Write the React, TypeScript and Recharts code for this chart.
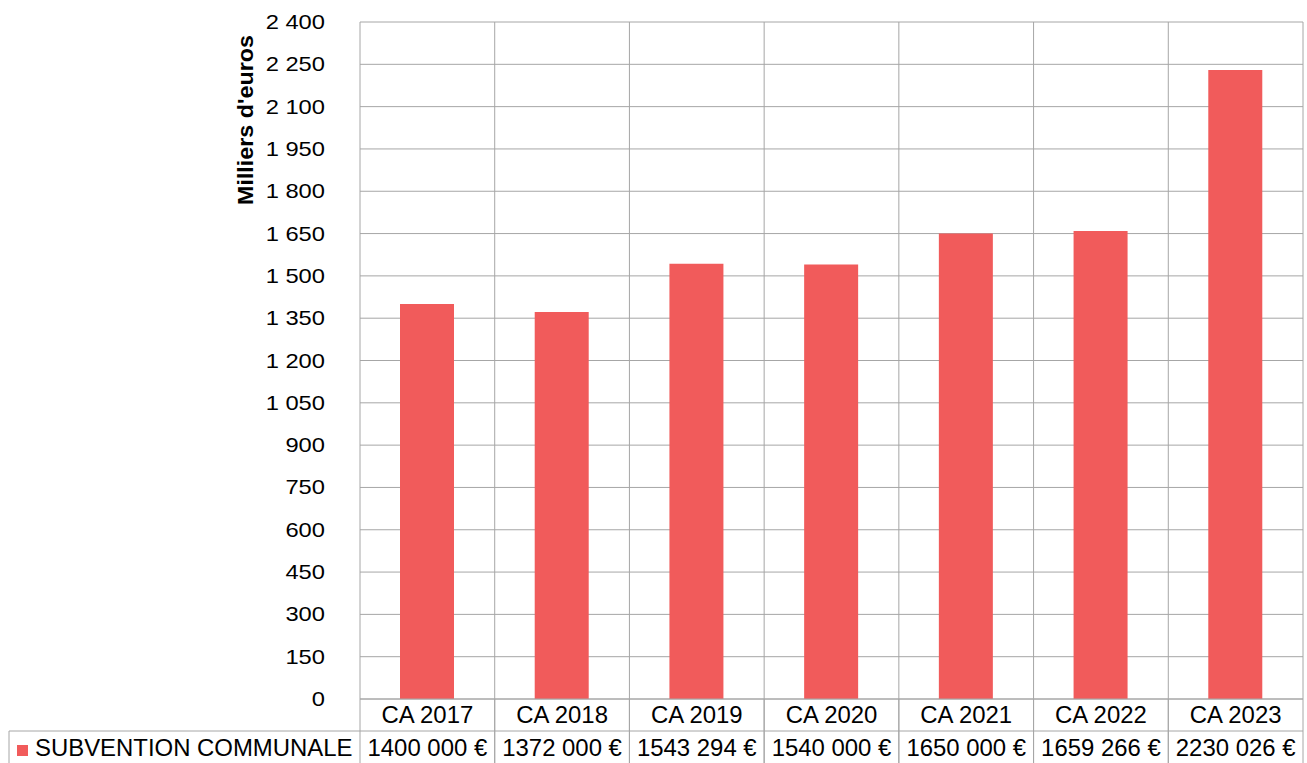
import React from "react";
import { BarChart, Bar, XAxis, YAxis, CartesianGrid } from "recharts";

const categories = ["CA 2017", "CA 2018", "CA 2019", "CA 2020", "CA 2021", "CA 2022", "CA 2023"];
const subventionEuros = [1400000, 1372000, 1543294, 1540000, 1650000, 1659266, 2230026];
const yTicks = [0, 150, 300, 450, 600, 750, 900, 1050, 1200, 1350, 1500, 1650, 1800, 1950, 2100, 2250, 2400];
const seriesName = "SUBVENTION COMMUNALE";
const yTitle = "Milliers d'euros";

const data = categories.map((c, i) => ({ cat: c, euros: subventionEuros[i], value: subventionEuros[i] / 1000 }));

const W = 1307;
const H = 763;
const M = { top: 22, right: 4, bottom: 0, left: 0 };
const XH = 64;
const YW = 360;
const PLOT_W = W - M.right - YW;
const BAND = PLOT_W / categories.length;
const ROW = 32;
const GRID = "#a6a6a6";
const BAR = "#F15B5B";
const FONT = "'Liberation Sans', Arial, sans-serif";

const fmtTick = (n: number) =>
  n >= 1000 ? `${Math.floor(n / 1000)} ${String(n % 1000).padStart(3, "0")}` : String(n);
const fmtEuro = (n: number) => `${Math.floor(n / 1000)} ${String(n % 1000).padStart(3, "0")} €`;

const SText = ({ x, y, anchor, size, sx, bold, rotate, children }: any) => (
  <text
    x={0}
    y={0}
    transform={`translate(${x},${y})${rotate ? ` rotate(${rotate})` : ""} scale(${sx},1)`}
    textAnchor={anchor}
    dominantBaseline="central"
    fontFamily={FONT}
    fontSize={size}
    fontWeight={bold ? "bold" : "normal"}
    fill="#000"
  >
    {children}
  </text>
);

const TS = 23;
const TSX = 1.04;

const TableTick = (props: any) => {
  const { x, y, payload, index } = props;
  const l = x - BAND / 2;
  const r = x + BAND / 2;
  const y0 = y;
  const y1 = y0 + ROW;
  const y2 = H;
  return (
    <g>
      <line x1={l} y1={y0} x2={l} y2={y2} stroke={GRID} strokeWidth={1} />
      <line x1={r} y1={y0} x2={r} y2={y2} stroke={GRID} strokeWidth={1} />
      <line x1={l} y1={y1} x2={r} y2={y1} stroke={GRID} strokeWidth={1} />
      <SText x={x} y={y0 + ROW / 2} anchor="middle" size={TS} sx={TSX}>
        {payload.value}
      </SText>
      <SText x={x} y={y1 + ROW / 2 + 1} anchor="middle" size={TS} sx={TSX}>
        {fmtEuro(subventionEuros[index])}
      </SText>
      {index === 0 && (
        <g>
          <line x1={9} y1={y1} x2={l} y2={y1} stroke={GRID} strokeWidth={1} />
          <line x1={9} y1={y1} x2={9} y2={y2} stroke={GRID} strokeWidth={1} />
          <rect x={17} y={y1 + 14} width={11} height={11} fill={BAR} />
          <SText x={35} y={y1 + ROW / 2 + 1} anchor="start" size={TS} sx={TSX}>
            {seriesName}
          </SText>
        </g>
      )}
    </g>
  );
};

const YTick = (props: any) => {
  const { x, y, payload } = props;
  return (
    <SText x={x} y={y} anchor="end" size={21} sx={1.13}>
      {fmtTick(payload.value)}
    </SText>
  );
};

const YTitle = () => (
  <SText x={245} y={120} anchor="middle" size={22} sx={1.06} bold rotate={-90}>
    {yTitle}
  </SText>
);

export default function App() {
  return (
    <div style={{ position: "absolute", left: 0, top: 0, width: W, height: H, background: "#fff" }}>
      <BarChart width={W} height={H} data={data} margin={M} barCategoryGap={0}>
        <CartesianGrid
          stroke={GRID}
          strokeWidth={1}
          verticalCoordinatesGenerator={({ offset }: any) =>
            Array.from({ length: categories.length + 1 }, (_, i) => offset.left + (i * offset.width) / categories.length)
          }
        />
        <XAxis
          dataKey="cat"
          interval={0}
          tickLine={false}
          tickSize={0}
          tickMargin={0}
          height={XH}
          axisLine={{ stroke: GRID }}
          tick={<TableTick />}
        />
        <YAxis
          width={YW}
          domain={[0, 2400]}
          ticks={yTicks}
          interval={0}
          tickLine={false}
          axisLine={false}
          tickSize={0}
          tickMargin={35}
          tick={<YTick />}
          label={<YTitle />}
        />
        <Bar dataKey="value" fill={BAR} barSize={54} isAnimationActive={false} />
      </BarChart>
    </div>
  );
}
